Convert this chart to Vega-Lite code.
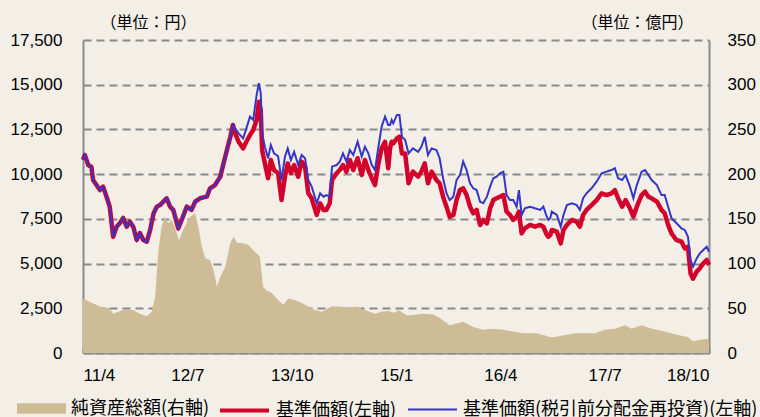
{
  "$schema": "https://vega.github.io/schema/vega-lite/v6.json",
  "width": 626,
  "height": 313,
  "autosize": {"type": "none"},
  "padding": {"left": 83, "top": 40, "right": 51, "bottom": 64},
  "background": "#f3efe7",
  "config": {
    "font": "'Liberation Sans', 'Noto Sans CJK JP', sans-serif",
    "view": {"stroke": null},
    "legend": {
      "title": null, "orient": "none", "legendY": 344, "direction": "horizontal",
      "labelFontSize": 18, "labelFont": "'Noto Sans CJK JP'", "labelColor": "#000000", "labelOffset": 5, "labelLimit": 400
    }
  },
  "title": {
    "text": "基準価額・純資産の推移",
    "fontSize": 30,
    "fontWeight": "bold",
    "font": "'Noto Sans CJK JP'",
    "color": "#000000",
    "anchor": "start",
    "frame": "group",
    "baseline": "bottom",
    "offset": 0,
    "dx": -53,
    "dy": 10
  },
  "datasets": {
    "aum": [
      {"d": "2011-04-01", "v": 61}, {"d": "2011-05-01", "v": 57}, {"d": "2011-06-14", "v": 52}, {"d": "2011-07-27", "v": 50},
      {"d": "2011-08-11", "v": 44}, {"d": "2011-09-24", "v": 48}, {"d": "2011-11-07", "v": 48}, {"d": "2011-12-06", "v": 44},
      {"d": "2012-01-05", "v": 41}, {"d": "2012-01-27", "v": 46}, {"d": "2012-02-11", "v": 63}, {"d": "2012-02-25", "v": 115},
      {"d": "2012-03-10", "v": 141}, {"d": "2012-03-24", "v": 152}, {"d": "2012-04-08", "v": 145}, {"d": "2012-04-23", "v": 149},
      {"d": "2012-05-07", "v": 141}, {"d": "2012-05-25", "v": 126}, {"d": "2012-06-13", "v": 138}, {"d": "2012-07-12", "v": 152},
      {"d": "2012-08-04", "v": 156}, {"d": "2012-08-18", "v": 141}, {"d": "2012-09-02", "v": 119}, {"d": "2012-09-17", "v": 106},
      {"d": "2012-10-08", "v": 104}, {"d": "2012-10-23", "v": 93}, {"d": "2012-11-07", "v": 74}, {"d": "2012-11-22", "v": 85},
      {"d": "2012-12-13", "v": 96}, {"d": "2013-01-05", "v": 123}, {"d": "2013-01-19", "v": 130}, {"d": "2013-02-04", "v": 123},
      {"d": "2013-02-25", "v": 123}, {"d": "2013-03-24", "v": 121}, {"d": "2013-04-23", "v": 113}, {"d": "2013-05-14", "v": 108},
      {"d": "2013-05-28", "v": 74}, {"d": "2013-06-13", "v": 70}, {"d": "2013-07-05", "v": 67}, {"d": "2013-08-03", "v": 59},
      {"d": "2013-08-25", "v": 54}, {"d": "2013-09-16", "v": 61}, {"d": "2013-10-15", "v": 59}, {"d": "2013-11-14", "v": 56},
      {"d": "2013-12-12", "v": 52}, {"d": "2014-01-11", "v": 48}, {"d": "2014-02-10", "v": 46}, {"d": "2014-03-23", "v": 52},
      {"d": "2014-05-06", "v": 52}, {"d": "2014-06-04", "v": 50}, {"d": "2014-07-11", "v": 52}, {"d": "2014-08-17", "v": 48},
      {"d": "2014-09-30", "v": 44}, {"d": "2014-10-29", "v": 46}, {"d": "2014-11-27", "v": 47}, {"d": "2014-12-26", "v": 45},
      {"d": "2015-01-11", "v": 48}, {"d": "2015-02-17", "v": 42}, {"d": "2015-04-29", "v": 44}, {"d": "2015-06-12", "v": 43},
      {"d": "2015-07-10", "v": 39}, {"d": "2015-08-24", "v": 31}, {"d": "2015-09-22", "v": 33}, {"d": "2015-10-21", "v": 35},
      {"d": "2015-12-04", "v": 29}, {"d": "2016-01-17", "v": 26}, {"d": "2016-03-01", "v": 27}, {"d": "2016-04-14", "v": 26},
      {"d": "2016-05-27", "v": 24}, {"d": "2016-07-10", "v": 22}, {"d": "2016-09-07", "v": 22}, {"d": "2016-11-05", "v": 18},
      {"d": "2016-11-27", "v": 18}, {"d": "2017-01-10", "v": 20}, {"d": "2017-02-23", "v": 22}, {"d": "2017-04-06", "v": 22},
      {"d": "2017-05-19", "v": 22}, {"d": "2017-07-02", "v": 26}, {"d": "2017-08-15", "v": 27}, {"d": "2017-09-28", "v": 31},
      {"d": "2017-10-27", "v": 27}, {"d": "2017-12-10", "v": 31}, {"d": "2018-01-24", "v": 27}, {"d": "2018-03-21", "v": 24},
      {"d": "2018-05-18", "v": 20}, {"d": "2018-07-01", "v": 18}, {"d": "2018-07-23", "v": 13}, {"d": "2018-08-29", "v": 15},
      {"d": "2018-10-01", "v": 16}
    ],
    "nav": [
      {"d": "2011-04-01", "r": 10800, "b": 10800}, {"d": "2011-04-09", "r": 11070, "b": 11070}, {"d": "2011-04-24", "r": 10510, "b": 10510},
      {"d": "2011-05-08", "r": 10400, "b": 10400}, {"d": "2011-05-15", "r": 9670, "b": 9670}, {"d": "2011-05-30", "r": 9390, "b": 9390},
      {"d": "2011-06-14", "r": 9110, "b": 9110}, {"d": "2011-06-28", "r": 9300, "b": 9300}, {"d": "2011-07-13", "r": 8740, "b": 8740},
      {"d": "2011-07-27", "r": 8180, "b": 8180}, {"d": "2011-08-11", "r": 6500, "b": 6500}, {"d": "2011-08-26", "r": 7060, "b": 7060},
      {"d": "2011-09-10", "r": 7270, "b": 7270}, {"d": "2011-09-24", "r": 7550, "b": 7550}, {"d": "2011-10-09", "r": 7060, "b": 7060},
      {"d": "2011-10-23", "r": 7340, "b": 7340}, {"d": "2011-11-07", "r": 7060, "b": 7060}, {"d": "2011-11-22", "r": 6320, "b": 6320},
      {"d": "2011-12-06", "r": 6710, "b": 6710}, {"d": "2011-12-21", "r": 6320, "b": 6320}, {"d": "2012-01-05", "r": 6220, "b": 6220},
      {"d": "2012-01-20", "r": 6880, "b": 6880}, {"d": "2012-02-04", "r": 7810, "b": 7810}, {"d": "2012-02-18", "r": 8180, "b": 8180},
      {"d": "2012-03-03", "r": 8270, "b": 8270}, {"d": "2012-03-24", "r": 8550, "b": 8550}, {"d": "2012-04-01", "r": 8650, "b": 8650},
      {"d": "2012-04-16", "r": 8180, "b": 8180}, {"d": "2012-04-30", "r": 8000, "b": 8000}, {"d": "2012-05-22", "r": 6970, "b": 6970},
      {"d": "2012-06-06", "r": 7440, "b": 7440}, {"d": "2012-06-28", "r": 8180, "b": 8180}, {"d": "2012-07-19", "r": 8000, "b": 8000},
      {"d": "2012-08-04", "r": 8460, "b": 8460}, {"d": "2012-08-25", "r": 8650, "b": 8650}, {"d": "2012-09-24", "r": 8740, "b": 8740},
      {"d": "2012-10-08", "r": 9210, "b": 9210}, {"d": "2012-10-30", "r": 9390, "b": 9390}, {"d": "2012-11-22", "r": 9860, "b": 9860},
      {"d": "2012-12-06", "r": 10600, "b": 10600}, {"d": "2012-12-21", "r": 11350, "b": 11350}, {"d": "2013-01-05", "r": 12090, "b": 12090},
      {"d": "2013-01-16", "r": 12750, "b": 12750}, {"d": "2013-01-26", "r": 12280, "b": 12560}, {"d": "2013-02-10", "r": 11810, "b": 12280},
      {"d": "2013-03-02", "r": 11440, "b": 12000}, {"d": "2013-03-16", "r": 11810, "b": 12560}, {"d": "2013-04-01", "r": 12190, "b": 13210},
      {"d": "2013-04-15", "r": 12470, "b": 13030}, {"d": "2013-04-30", "r": 13030, "b": 14430}, {"d": "2013-05-10", "r": 14050, "b": 15080},
      {"d": "2013-05-18", "r": 13590, "b": 14520}, {"d": "2013-05-24", "r": 11350, "b": 12280}, {"d": "2013-06-05", "r": 10600, "b": 11530},
      {"d": "2013-06-19", "r": 9770, "b": 10890}, {"d": "2013-07-01", "r": 10790, "b": 11630}, {"d": "2013-07-15", "r": 10230, "b": 11160},
      {"d": "2013-08-02", "r": 10050, "b": 11000}, {"d": "2013-08-17", "r": 8550, "b": 9670}, {"d": "2013-09-01", "r": 9860, "b": 10980},
      {"d": "2013-09-13", "r": 10600, "b": 11440}, {"d": "2013-09-27", "r": 10050, "b": 10790}, {"d": "2013-10-11", "r": 10510, "b": 11250},
      {"d": "2013-10-29", "r": 9860, "b": 10510}, {"d": "2013-11-13", "r": 10700, "b": 11070}, {"d": "2013-11-28", "r": 10420, "b": 10890},
      {"d": "2013-12-12", "r": 8930, "b": 9670}, {"d": "2013-12-27", "r": 8650, "b": 9300}, {"d": "2014-01-18", "r": 7720, "b": 8370},
      {"d": "2014-02-02", "r": 8370, "b": 8930}, {"d": "2014-02-17", "r": 8000, "b": 8740}, {"d": "2014-03-01", "r": 8000, "b": 8830},
      {"d": "2014-03-16", "r": 8370, "b": 8740}, {"d": "2014-03-26", "r": 9670, "b": 10420}, {"d": "2014-04-15", "r": 10050, "b": 10510},
      {"d": "2014-04-29", "r": 10230, "b": 10700}, {"d": "2014-05-13", "r": 10510, "b": 11160}, {"d": "2014-05-28", "r": 10140, "b": 10700},
      {"d": "2014-06-12", "r": 10790, "b": 11350}, {"d": "2014-06-27", "r": 10230, "b": 11070}, {"d": "2014-07-16", "r": 10890, "b": 11810},
      {"d": "2014-08-03", "r": 9950, "b": 10980}, {"d": "2014-08-17", "r": 10790, "b": 11530}, {"d": "2014-09-01", "r": 10230, "b": 11160},
      {"d": "2014-09-16", "r": 9770, "b": 10510}, {"d": "2014-09-30", "r": 9390, "b": 10230}, {"d": "2014-10-14", "r": 10510, "b": 11440},
      {"d": "2014-10-29", "r": 11440, "b": 12650}, {"d": "2014-11-13", "r": 11810, "b": 13210}, {"d": "2014-11-27", "r": 10330, "b": 12750},
      {"d": "2014-12-05", "r": 11440, "b": 12750}, {"d": "2014-12-12", "r": 11810, "b": 13030}, {"d": "2014-12-19", "r": 11720, "b": 12840},
      {"d": "2015-01-04", "r": 12000, "b": 13310}, {"d": "2015-01-15", "r": 12090, "b": 13310}, {"d": "2015-01-26", "r": 11160, "b": 12090},
      {"d": "2015-02-09", "r": 11160, "b": 11910}, {"d": "2015-02-24", "r": 9490, "b": 11160}, {"d": "2015-03-15", "r": 10140, "b": 11440},
      {"d": "2015-04-07", "r": 9860, "b": 11250}, {"d": "2015-04-21", "r": 10140, "b": 11530}, {"d": "2015-05-06", "r": 10600, "b": 12090},
      {"d": "2015-05-20", "r": 9490, "b": 11070}, {"d": "2015-06-05", "r": 10140, "b": 11440}, {"d": "2015-06-26", "r": 9670, "b": 11350},
      {"d": "2015-07-10", "r": 9490, "b": 10890}, {"d": "2015-07-25", "r": 8740, "b": 9770}, {"d": "2015-08-09", "r": 8180, "b": 8930},
      {"d": "2015-08-23", "r": 7620, "b": 8550}, {"d": "2015-09-08", "r": 7720, "b": 8740}, {"d": "2015-09-22", "r": 8550, "b": 9670},
      {"d": "2015-10-07", "r": 9110, "b": 9950}, {"d": "2015-10-21", "r": 9210, "b": 10700}, {"d": "2015-11-05", "r": 8830, "b": 10230},
      {"d": "2015-11-20", "r": 8180, "b": 9490}, {"d": "2015-12-04", "r": 7810, "b": 9210}, {"d": "2015-12-19", "r": 8000, "b": 9110},
      {"d": "2016-01-03", "r": 7160, "b": 8460}, {"d": "2016-01-17", "r": 7440, "b": 8370}, {"d": "2016-02-02", "r": 7250, "b": 8740},
      {"d": "2016-02-16", "r": 8090, "b": 9300}, {"d": "2016-03-01", "r": 8550, "b": 9770}, {"d": "2016-03-15", "r": 8650, "b": 9860},
      {"d": "2016-03-30", "r": 8740, "b": 10050}, {"d": "2016-04-14", "r": 8830, "b": 10140}, {"d": "2016-04-28", "r": 7900, "b": 8830},
      {"d": "2016-05-13", "r": 7720, "b": 8550}, {"d": "2016-05-27", "r": 7440, "b": 8550}, {"d": "2016-06-11", "r": 7620, "b": 8180},
      {"d": "2016-06-21", "r": 7900, "b": 9110}, {"d": "2016-07-03", "r": 6690, "b": 7720}, {"d": "2016-07-17", "r": 6970, "b": 8090},
      {"d": "2016-08-09", "r": 7160, "b": 8180}, {"d": "2016-08-30", "r": 7060, "b": 8090}, {"d": "2016-09-22", "r": 7160, "b": 8000},
      {"d": "2016-10-06", "r": 7060, "b": 8180}, {"d": "2016-10-21", "r": 6600, "b": 7620}, {"d": "2016-10-28", "r": 6500, "b": 7440},
      {"d": "2016-11-05", "r": 6600, "b": 7530}, {"d": "2016-11-12", "r": 6880, "b": 7900}, {"d": "2016-12-04", "r": 6780, "b": 7720},
      {"d": "2016-12-21", "r": 6130, "b": 7060}, {"d": "2017-01-02", "r": 6880, "b": 7720}, {"d": "2017-01-17", "r": 7160, "b": 8270},
      {"d": "2017-02-08", "r": 7440, "b": 8370}, {"d": "2017-03-01", "r": 7340, "b": 8270}, {"d": "2017-03-15", "r": 7060, "b": 8000},
      {"d": "2017-03-29", "r": 7720, "b": 8650}, {"d": "2017-04-13", "r": 8000, "b": 8930}, {"d": "2017-05-05", "r": 8270, "b": 9210},
      {"d": "2017-05-27", "r": 8550, "b": 9580}, {"d": "2017-06-18", "r": 8930, "b": 10050}, {"d": "2017-07-09", "r": 8830, "b": 10140},
      {"d": "2017-07-31", "r": 8930, "b": 10230}, {"d": "2017-08-15", "r": 9110, "b": 10330}, {"d": "2017-08-29", "r": 8650, "b": 9770},
      {"d": "2017-09-16", "r": 8180, "b": 9670}, {"d": "2017-10-01", "r": 8550, "b": 9950}, {"d": "2017-10-20", "r": 8090, "b": 9300},
      {"d": "2017-11-04", "r": 7620, "b": 8650}, {"d": "2017-11-19", "r": 8180, "b": 9390}, {"d": "2017-12-10", "r": 8830, "b": 10140},
      {"d": "2017-12-25", "r": 9020, "b": 10230}, {"d": "2018-01-09", "r": 8740, "b": 9950}, {"d": "2018-01-23", "r": 8650, "b": 9670},
      {"d": "2018-02-15", "r": 8460, "b": 9390}, {"d": "2018-03-07", "r": 8000, "b": 8830}, {"d": "2018-03-21", "r": 7810, "b": 8830},
      {"d": "2018-04-05", "r": 7160, "b": 8180}, {"d": "2018-04-20", "r": 6690, "b": 7530}, {"d": "2018-05-11", "r": 6320, "b": 7270},
      {"d": "2018-06-03", "r": 6220, "b": 6970}, {"d": "2018-06-17", "r": 5850, "b": 6880}, {"d": "2018-07-01", "r": 5940, "b": 6500},
      {"d": "2018-07-12", "r": 4450, "b": 5200}, {"d": "2018-07-23", "r": 4150, "b": 4830}, {"d": "2018-08-08", "r": 4550, "b": 5290},
      {"d": "2018-08-22", "r": 4740, "b": 5570}, {"d": "2018-09-06", "r": 5010, "b": 5760}, {"d": "2018-09-21", "r": 5200, "b": 5940},
      {"d": "2018-10-01", "r": 4920, "b": 5660}
    ]
  },
  "layer": [
    {
      "data": {"name": "aum"},
      "mark": {"type": "area", "opacity": 1},
      "encoding": {
        "x": {
          "field": "d", "type": "temporal",
          "scale": {"domain": [{"year": 2011, "month": 4, "date": 1}, {"year": 2018, "month": 10, "date": 1}]},
          "axis": {
            "title": null, "orient": "bottom",
            "values": [
              {"year": 2011, "month": 4, "date": 1}, {"year": 2012, "month": 7, "date": 1}, {"year": 2013, "month": 10, "date": 1},
              {"year": 2015, "month": 1, "date": 1}, {"year": 2016, "month": 4, "date": 1}, {"year": 2017, "month": 7, "date": 1},
              {"year": 2018, "month": 10, "date": 1}
            ],
            "format": "%y/%-m",
            "grid": false,
            "domainColor": "#8a8a8a", "domainWidth": 2,
            "ticks": true, "tickColor": "#8a8a8a", "tickWidth": 2, "tickSize": -5,
            "labelPadding": 19, "labelFontSize": 17, "labelColor": "#000000", "labelBaseline": "top",
            "labelFont": "'Liberation Sans Narrow', 'Liberation Sans', sans-serif"
          }
        },
        "y": {
          "field": "v", "type": "quantitative",
          "scale": {"domain": [0, 350], "nice": false},
          "axis": {
            "orient": "right",
            "title": "（単位：億円）",
            "titleFont": "'Noto Sans CJK JP'", "titleFontSize": 16, "titleFontWeight": "normal", "titleColor": "#000000",
            "titleAngle": 0, "titleAlign": "right", "titleBaseline": "middle", "titleX": -16, "titleY": -18,
            "values": [0, 50, 100, 150, 200, 250, 300, 350],
            "grid": false, "ticks": false,
            "domainColor": "#8a8a8a", "domainWidth": 2,
            "labelPadding": 18, "labelFontSize": 17, "labelColor": "#000000"
          }
        },
        "fill": {
          "datum": "純資産総額(右軸)",
          "scale": {"range": ["#cdbc95"]},
          "legend": {
            "legendX": -66,
            "symbolType": "M-1,-0.21H1V0.21H-1Z",
            "symbolSize": 2401,
            "symbolStrokeWidth": 0
          }
        }
      }
    },
    {
      "data": {"name": "nav"},
      "encoding": {
        "x": {"field": "d", "type": "temporal"}
      },
      "layer": [
        {
          "mark": {"type": "line", "strokeWidth": 4.5, "strokeJoin": "round"},
          "encoding": {
            "y": {
              "field": "r", "type": "quantitative",
              "scale": {"domain": [0, 17500], "nice": false},
              "axis": {
                "orient": "left",
                "title": "（単位：円）",
                "titleFont": "'Noto Sans CJK JP'", "titleFontSize": 16, "titleFontWeight": "normal", "titleColor": "#000000",
                "titleAngle": 0, "titleAlign": "left", "titleBaseline": "middle", "titleX": 17, "titleY": -18,
                "values": [0, 2500, 5000, 7500, 10000, 12500, 15000, 17500],
                "labelExpr": "format(datum.value, ',')",
                "grid": true, "gridColor": "#8a8a8a", "gridWidth": 2, "gridDash": [8, 5],
                "ticks": false,
                "domainColor": "#8a8a8a", "domainWidth": 2,
                "labelPadding": 21, "labelFontSize": 17, "labelColor": "#000000"
              }
            },
            "color": {
              "datum": "基準価額(左軸)",
              "scale": {"range": ["#d2002a"]},
              "legend": {
                "legendX": 135,
                "symbolType": "stroke",
                "symbolSize": 2401,
                "symbolStrokeWidth": 4
              }
            }
          }
        },
        {
          "mark": {"type": "line", "strokeWidth": 2},
          "encoding": {
            "y": {"field": "b", "type": "quantitative"},
            "stroke": {
              "datum": "基準価額(税引前分配金再投資)(左軸)",
              "scale": {"range": ["#3535c8"]},
              "legend": {
                "legendX": 324,
                "symbolType": "stroke",
                "symbolSize": 2401,
                "symbolStrokeWidth": 2
              }
            }
          }
        }
      ]
    }
  ],
  "resolve": {"scale": {"y": "independent"}}
}
